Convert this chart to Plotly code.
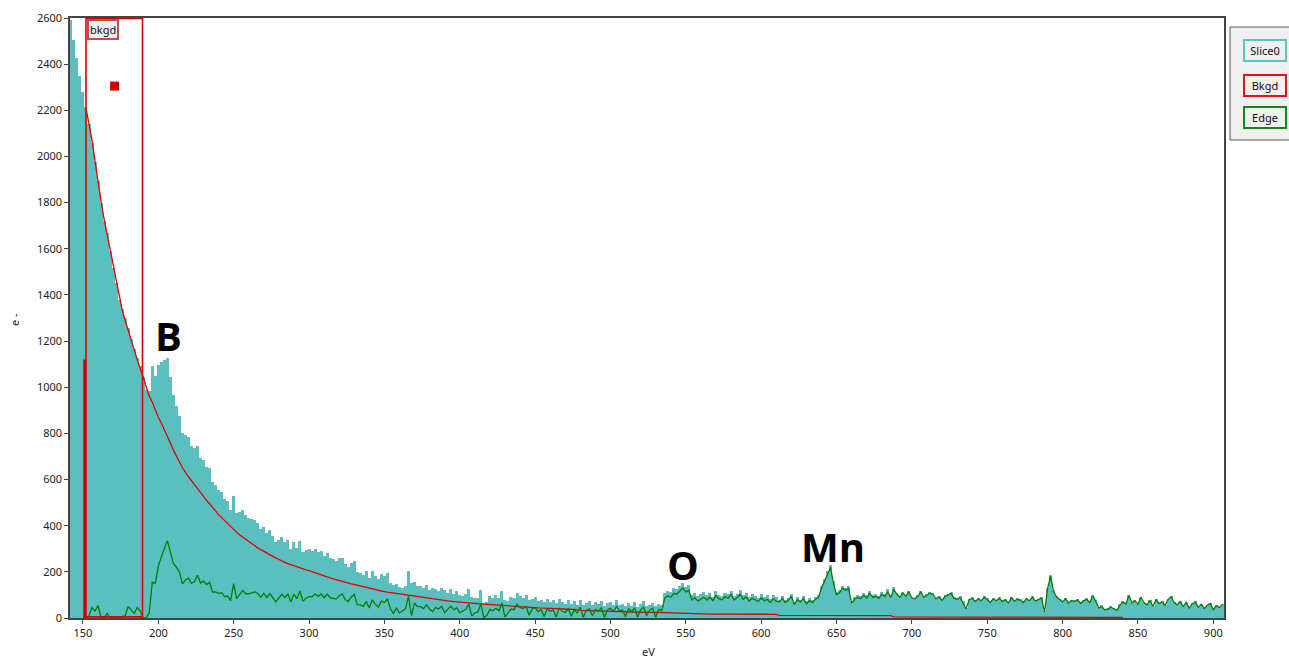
import plotly.graph_objects as go

# ---------------- data ----------------
slice_start, slice_step = 142, 2
slice_counts = [
    2590, 2505, 2425, 2350, 2280, 2215, 2140, 2060, 1975, 1895, 1800, 1720, 1670, 1590, 1515, 1450, 1380, 1340, 1300, 1255, 1210, 1165, 1125, 1090, 1045,
    990, 985, 1090, 1050, 1095, 1110, 1118, 1125, 1045, 965, 920, 875, 800, 795, 785, 745, 735, 745, 695, 685, 655, 650,
    590, 575, 555, 545, 515, 505, 470, 530, 455, 460, 470, 445, 435, 430, 425, 410, 385, 395, 370, 380, 355, 330, 340, 350, 330, 340, 300, 330, 305, 335, 285, 295, 298,
    292, 300, 285, 290, 270, 282, 262, 255, 248, 258,
    262, 235, 222, 238, 248, 200, 195, 185, 203, 172,
    205, 182, 168, 190, 182, 195, 150, 142, 148, 136,
    132, 140, 205, 150, 158, 140, 138, 128, 142, 122,
    130, 125, 118, 128, 120, 110, 125, 106, 115, 100,
    96, 104, 125, 90, 85, 88, 122, 66, 70, 95,
    88, 98, 86, 118, 80, 74, 90, 86, 108, 94,
    88, 98, 78, 84, 90, 72, 80, 68, 82, 70,
    76, 64, 84, 68, 62, 78, 60, 72, 58, 80,
    56, 66, 72, 55, 68, 60, 74, 52, 64, 70,
    56, 78, 58, 62, 50, 66, 54, 70, 48, 60,
    72, 52, 58, 66, 50, 62, 55,
    108, 118, 112, 128, 125, 140, 152, 135, 142, 100,
    110, 95, 105, 112, 98, 108, 92, 115, 100, 96,
    110, 102, 118, 95, 105, 120, 98, 108, 90, 102,
    96, 88, 104, 92, 98, 84, 100, 90, 80, 96,
    78, 88, 105, 70, 90, 80, 96, 72, 86, 78,
    92, 100, 140, 170, 205, 230, 160, 112, 120, 140,
    130, 138, 75, 92, 100, 95, 110, 98, 118, 100,
    105, 96, 112, 104, 125, 100, 135, 108, 95, 112,
    100, 118, 92,
    88, 100, 118, 95, 102, 112, 108, 88, 96, 82,
    98, 104, 112, 90, 86, 94, 72, 45, 84, 90,
    76, 88, 80, 95, 85, 72, 88, 80, 90, 76,
    84, 70, 92, 78, 86, 82, 72, 88, 80, 95,
    78, 84, 92, 30, 130, 186, 120, 96, 84, 75,
    88, 70, 80, 76, 84, 68, 80, 86, 72, 100,
    78, 48, 55, 40, 42, 52, 45, 38, 60, 72,
    64, 100, 68, 78, 62, 92, 70, 60, 78, 54,
    82, 66, 72, 58, 84, 95, 70, 60, 74, 52,
    70, 46, 64, 72, 50, 62, 44, 58, 66, 38,
    56, 48, 62,
]

edge_start, edge_step = 152, 2
edge_counts = [
    0, 10, 45, 30, 55, 0, 0, 20, 0, 0, 0, 0, 5, 10, 50, 35, 20, 45, 30, 0,
    0, 23, 155, 150, 225, 265, 305, 335, 287, 237, 220, 199, 148, 165, 173, 150, 158, 185, 152, 160, 145, 155,
    112, 113, 107, 110, 93, 95, 75, 149, 84, 100, 120, 105, 105, 109, 113, 106, 89, 107, 89, 106, 88, 70, 87, 103, 89, 104, 69, 104, 83, 117, 72, 86, 93,
    92, 105, 94, 104, 88, 104, 88, 85, 82, 96,
    104, 80, 71, 90, 103, 58, 57, 50, 71, 43,
    79, 59, 48, 73, 67, 83, 40, 20, 43, 22,
    31, 40, 95, 10, 65, 49, 49, 41, 57, 39,
    28, 45, 39, 51, 22, 36, 52, 35, 45, 22,
    29, 38, 60, 8, 22, 26, 61, 2, 11, 37,
    31, 42, 31, 64, 5, 22, 39, 36, 59, 46,
    41, 51, 12, 39, 45, 28, 37, 6, 40, 29,
    35, 4, 44, 29, 24, 40, 8, 35, 22, 47,
    3, 34, 40, 10, 37, 30, 44, 2, 35, 42,
    28, 50, 31, 35, 6, 40, 28, 44, 4, 35,
    47, 10, 34, 42, 3, 38, 31,
    86, 96, 90, 106, 103, 118, 130, 113, 120, 78,
    88, 73, 83, 90, 78, 91, 75, 98, 83, 79,
    93, 85, 101, 78, 88, 103, 81, 91, 73, 85,
    79, 71, 87, 75, 81, 67, 83, 73, 69, 85,
    67, 77, 94, 59, 79, 69, 85, 61, 75, 67,
    81, 89, 129, 159, 194, 219, 149, 101, 109, 129,
    119, 127, 64, 81, 89, 84, 99, 87, 107, 89,
    94, 85, 101, 93, 114, 89, 124, 103, 90, 107,
    95, 113, 87,
    83, 95, 113, 90, 97, 107, 103, 83, 91, 77,
    93, 99, 107, 85, 81, 89, 67, 40, 79, 85,
    71, 83, 75, 90, 80, 67, 83, 75, 85, 71,
    79, 65, 87, 73, 81, 77, 67, 83, 75, 90,
    73, 79, 87, 25, 125, 181, 115, 91, 79, 70,
    83, 65, 75, 71, 79, 63, 75, 81, 67, 95,
    73, 43, 50, 35, 37, 47, 40, 33, 55, 69,
    61, 97, 65, 75, 59, 89, 67, 57, 75, 51,
    79, 63, 69, 55, 81, 92, 67, 57, 71, 49,
    67, 43, 61, 69, 47, 59, 41, 55, 63, 35,
    53, 45, 59,
]

bkgd_ev = list(range(152, 301, 2)) + list(range(304, 477, 4)) + [480, 490, 500, 510, 520, 530, 535, 540, 564, 566, 610, 612, 686, 688, 760, 840]
bkgd_counts = [
    2210, 2145, 2070, 1980, 1885, 1805, 1730, 1665, 1595, 1525, 1455, 1390, 1335, 1290, 1245, 1200, 1160, 1120, 1080, 1045,
    1000, 962, 935, 900, 870, 845, 818, 790, 758, 728, 700, 676, 652, 630, 612, 595, 577, 560, 543, 525, 510, 495,
    478, 462, 448, 435, 422, 410, 395, 381, 371, 360, 350, 340, 330, 321, 312, 304, 296, 288, 281, 274, 267, 260, 253,
    247, 241, 236, 231, 226, 222, 218, 213, 209, 205,
    195, 186, 178, 170, 162, 155, 148, 142, 135, 129,
    123, 117, 112, 108, 103, 99, 95, 91, 87, 83,
    80, 77, 74, 71, 68, 66, 64, 62, 60, 58,
    56, 54, 52, 50, 48, 47, 45, 44, 43, 41,
    40, 39, 38, 37,
    33, 31, 28, 27, 25, 24, 23, 22, 20, 17, 16, 11, 10, 5, 4, 3,
]

slice_ev = [slice_start + slice_step * i for i in range(len(slice_counts))]
edge_ev = [edge_start + edge_step * i for i in range(len(edge_counts))]

window_ev = [152, 189.5]          # background fit window
window_marker = (171, 2305)       # window handle
peak_labels = [("B", 206.5, 1226), ("O", 548, 230), ("Mn", 647.7, 308)]
legend_items = [("Slice0", "#5cc4c4"), ("Bkgd", "#d81818"), ("Edge", "#108a10")]

x_range = [141.4, 907.1]
y_range = [0, 2600]

# ---------------- figure ----------------
W, H = 1289, 658
ML, MR, MT, MB = 70, 65, 18, 40
PW, PH = W - ML - MR, H - MT - MB


def px2paper_x(px):
    return (px - ML) / PW


def py2paper_y(py):
    return (MT + PH - py) / PH


fig = go.Figure()
fig.add_trace(go.Bar(x=slice_ev, y=slice_counts, width=slice_step,
                     marker=dict(color="#5cbfbf", line=dict(width=0)),
                     name="Slice0", hoverinfo="x+y"))
fig.add_trace(go.Scatter(x=bkgd_ev, y=bkgd_counts, mode="lines",
                         line=dict(color="#e00000", width=1.3), name="Bkgd"))
fig.add_trace(go.Scatter(x=edge_ev, y=edge_counts, mode="lines",
                         line=dict(color="#008000", width=1.3), name="Edge"))
fig.add_trace(go.Scatter(x=[window_marker[0]], y=[window_marker[1]], mode="markers",
                         marker=dict(symbol="square", size=9, color="#d00000"),
                         showlegend=False))

shapes = [
    dict(type="rect", xref="x", yref="y", x0=window_ev[0], x1=window_ev[1], y0=5, y1=2598,
         line=dict(color="#e00000", width=1.6)),
    dict(type="line", xref="x", yref="y", x0=151.2, x1=151.2, y0=0, y1=1120,
         line=dict(color="#cc0000", width=3)),
    # legend panel
    dict(type="rect", xref="paper", yref="paper", x0=px2paper_x(1230), x1=px2paper_x(1292),
         y0=py2paper_y(140), y1=py2paper_y(27),
         line=dict(color="#555555", width=1), fillcolor="#f0f0f0", layer="below"),
]

annotations = [
    dict(x=window_ev[0] + 0.4, y=2594, xref="x", yref="y", xanchor="left", yanchor="top",
         text="bkgd", showarrow=False, font=dict(family="Noto Sans", size=11, color="#111"),
         bgcolor="#f0f0f0", bordercolor="#c84a4a", borderwidth=2, borderpad=1),
    dict(x=px2paper_x(648), y=py2paper_y(651), xref="paper", yref="paper", text="eV", showarrow=False,
         xanchor="center", yanchor="middle",
         font=dict(family="Noto Sans", size=11, color="#222")),
    dict(x=px2paper_x(14), y=py2paper_y(320), xref="paper", yref="paper", text="e -", showarrow=False,
         xanchor="center", yanchor="middle",
         textangle=-90, font=dict(family="Noto Sans", size=11, color="#222")),
]
for txt, xv, yv in peak_labels:
    annotations.append(dict(x=xv, y=yv, xref="x", yref="y", text="<b>%s</b>" % txt, showarrow=False,
                            xanchor="center", yanchor="middle",
                            font=dict(family="Open Sans", size=40, color="#000")))
legend_y = [50, 85, 117]
for (name, col), py in zip(legend_items, legend_y):
    annotations.append(dict(x=px2paper_x(1265), y=py2paper_y(py), xref="paper", yref="paper",
                            xanchor="center", yanchor="middle",
                            text=name, showarrow=False, width=38, height=17,
                            font=dict(family="Noto Sans", size=11, color="#111"),
                            bgcolor="#f0f0f0", bordercolor=col, borderwidth=2, borderpad=1))

axis_common = dict(showline=True, linecolor="#444", linewidth=1.5, mirror=True, automargin=False,
                   ticks="outside", ticklen=4, tickcolor="#444", showgrid=False, zeroline=False,
                   tickfont=dict(family="Noto Sans", size=11, color="#222"))
fig.update_layout(
    width=W, height=H, autosize=False,
    margin=dict(l=ML, r=MR, t=MT, b=MB, autoexpand=False),
    paper_bgcolor="white", plot_bgcolor="white",
    showlegend=False, bargap=0,
    xaxis=dict(range=x_range, tickmode="linear", tick0=150, dtick=50, **axis_common),
    yaxis=dict(range=y_range, tickmode="linear", tick0=0, dtick=200, **axis_common),
    shapes=shapes, annotations=annotations,
)

fig.write_html("out.html", config={"displayModeBar": False},
               post_script="document.body.style.margin='0';document.body.style.overflow='hidden';")
